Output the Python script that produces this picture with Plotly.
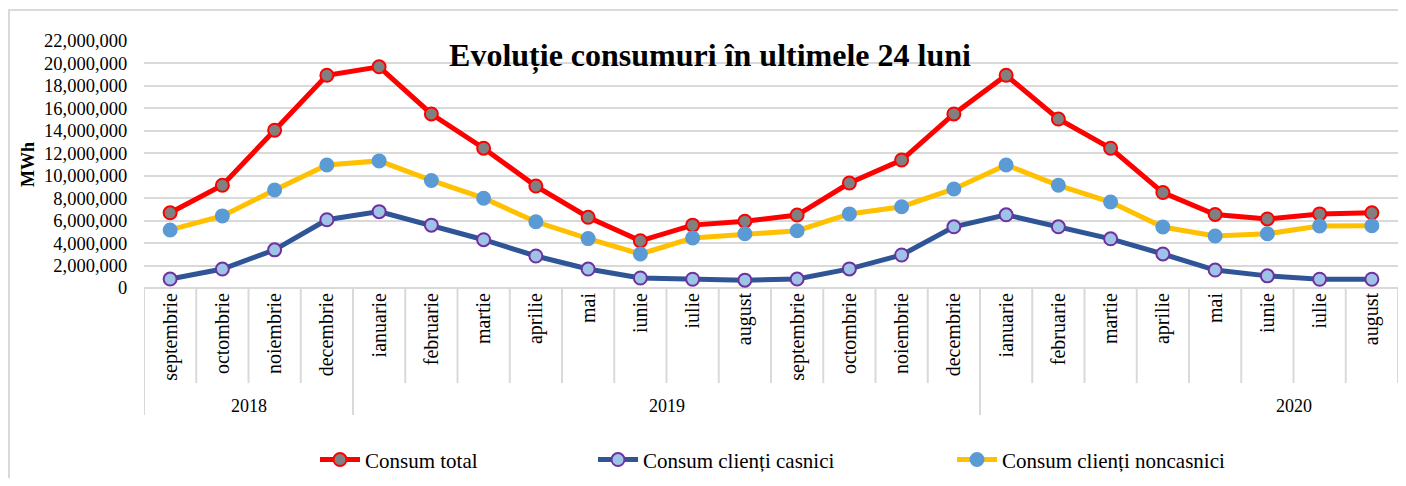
import plotly.graph_objects as go

# ---------------- data ----------------
months = ["septembrie", "octombrie", "noiembrie", "decembrie",
          "ianuarie", "februarie", "martie", "aprilie", "mai", "iunie", "iulie", "august",
          "septembrie", "octombrie", "noiembrie", "decembrie",
          "ianuarie", "februarie", "martie", "aprilie", "mai", "iunie", "iulie", "august"]
years = ["2018", "2019", "2020"]
year_counts = [4, 12, 8]

consum_total = [6700000, 9150000, 14050000, 18950000, 19700000, 15500000, 12450000, 9080000,
                6300000, 4200000, 5600000, 5950000, 6500000, 9350000, 11400000, 15500000,
                18950000, 15050000, 12450000, 8500000, 6550000, 6150000, 6600000, 6700000]
consum_casnici = [800000, 1690000, 3400000, 6080000, 6800000, 5600000, 4300000, 2850000,
                  1690000, 890000, 780000, 700000, 800000, 1700000, 2940000, 5450000,
                  6520000, 5450000, 4380000, 3030000, 1600000, 1080000, 780000, 780000]
consum_noncasnici = [5170000, 6420000, 8730000, 10960000, 11320000, 9580000, 8000000, 5900000,
                     4400000, 3030000, 4450000, 4830000, 5100000, 6600000, 7240000, 8820000,
                     10960000, 9150000, 7660000, 5430000, 4630000, 4830000, 5520000, 5540000]

series_names = ["Consum total", "Consum clienți casnici", "Consum clienți noncasnici"]
y_ticks = list(range(0, 22000001, 2000000))
title_text = "Evoluție consumuri în ultimele 24 luni"
y_title = "MWh"

# ---------------- styling / layout constants ----------------
FONT = "Liberation Serif"
GRID = "#D9D9D9"
year_label_pos = [1.5, 9.5, 21.5]
W, H = 1390, 470          # page adds an 8px body margin on each side
PL, PR, PT, PB = 136, 1390, 33, 280   # plot area in figure pixels
PW = PR - PL

x = list(range(len(months)))

fig = go.Figure()
fig.add_trace(go.Scatter(
    x=x, y=consum_total, name=series_names[0], mode="lines+markers",
    line=dict(color="#FF0000", width=5),
    marker=dict(size=13, color="#808080", line=dict(color="#FF0000", width=2)),
    legend="legend", showlegend=True))
fig.add_trace(go.Scatter(
    x=x, y=consum_casnici, name=series_names[1], mode="lines+markers",
    line=dict(color="#2F5597", width=5),
    marker=dict(size=13, color="#9DC3E6", line=dict(color="#7030A0", width=2)),
    legend="legend2", showlegend=True))
fig.add_trace(go.Scatter(
    x=x, y=consum_noncasnici, name=series_names[2], mode="lines+markers",
    line=dict(color="#FFC000", width=5),
    marker=dict(size=13, color="#5B9BD5", line=dict(color="#5B9BD5", width=2)),
    legend="legend3", showlegend=True))

shapes = []
# month dividers
for b in range(len(months) + 1):
    shapes.append(dict(type="line", xref="x", yref="paper",
                       x0=b - 0.5, x1=b - 0.5, y0=0, y1=-0.385,
                       line=dict(color=GRID, width=2)))
# year dividers
cum = 0
for c in [0] + year_counts[:-1]:
    cum += c
    shapes.append(dict(type="line", xref="x", yref="paper",
                       x0=cum - 0.5, x1=cum - 0.5, y0=-0.385, y1=-0.514,
                       line=dict(color=GRID, width=2)))
# outer frame
shapes.append(dict(type="rect", xref="paper", yref="paper",
                   x0=(1 - PL) / PW, x1=1.05, y0=1.1255, y1=-0.9,
                   line=dict(color=GRID, width=2), fillcolor="rgba(0,0,0,0)"))

annotations = []
for yr, pos in zip(years, year_label_pos):
    annotations.append(dict(text=yr, x=pos, xref="x", y=-0.478, yref="paper",
                            showarrow=False, xanchor="center", yanchor="middle",
                            font=dict(family=FONT, size=18, color="black")))

leg_common = dict(orientation="h", yanchor="middle", y=-0.696, xanchor="left",
                  font=dict(family=FONT, size=21, color="black"),
                  bgcolor="rgba(0,0,0,0)", itemwidth=40)

fig.update_layout(
    width=W, height=H,
    showlegend=True,
    margin=dict(l=PL, r=W - PR, t=PT, b=H - PB, autoexpand=False),
    paper_bgcolor="white", plot_bgcolor="white",
    title=dict(text="<b>" + title_text + "</b>", x=702 / W, xref="container",
               xanchor="center", y=1 - 47 / H, yanchor="middle",
               font=dict(family=FONT, size=32, color="black")),
    xaxis=dict(range=[-0.5, len(months) - 0.5], tickmode="array", tickvals=x,
               ticktext=months, tickangle=-90, showgrid=False, zeroline=False,
               showline=False, ticks="", automargin=False,
               tickfont=dict(family=FONT, size=20, color="black")),
    yaxis=dict(range=[0, 22000000], tickmode="array", tickvals=y_ticks, tickformat=",d",
               showgrid=True, gridcolor=GRID, gridwidth=2, zeroline=True, zerolinecolor=GRID,
               zerolinewidth=2, showline=False, ticks="outside", ticklen=12,
               tickcolor="rgba(0,0,0,0)", automargin=False,
               tickfont=dict(family=FONT, size=18.5, color="black"),
               title=dict(text="<b>" + y_title + "</b>", standoff=4,
                          font=dict(family=FONT, size=18, color="black"))),
    legend=dict(x=(365 - 50 - 144) / PW, **leg_common),
    legend2=dict(x=(643 - 50 - 144) / PW, **leg_common),
    legend3=dict(x=(1002 - 50 - 144) / PW, **leg_common),
    shapes=shapes,
    annotations=annotations,
)

fig.write_html("out.html")
